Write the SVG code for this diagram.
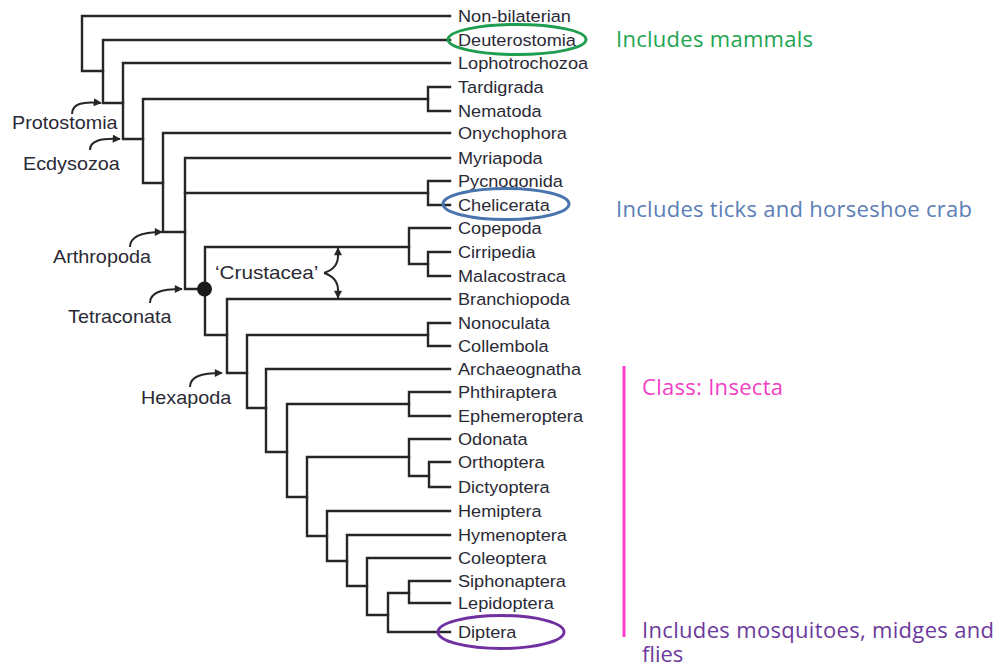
<svg xmlns="http://www.w3.org/2000/svg" width="1001" height="666" viewBox="0 0 1001 666">
<defs>
<style>
.br{fill:none;stroke:#262626;stroke-width:2.4;stroke-linecap:square;stroke-linejoin:miter}
.lf{font-family:"Liberation Sans",Arial,sans-serif;font-size:16.5px;fill:#2a2a36}
.cl{font-family:"Liberation Sans",Arial,sans-serif;font-size:18px;fill:#2a2a36}
.ar{fill:none;stroke:#262626;stroke-width:2}
.an{font-family:"Open Sans","Noto Sans",sans-serif;font-size:22px}
</style>
<marker id="ah" viewBox="0 0 10 10" refX="9" refY="5" markerWidth="10" markerHeight="8" markerUnits="userSpaceOnUse" orient="auto">
<path d="M0,0 L10,5 L0,10 Z" fill="#262626"/>
</marker>
</defs>
<rect width="1001" height="666" fill="#ffffff"/>

<g id="connectors">
<path class="br" d="M450,16 H82 V71 H103"/>
<path class="br" d="M450,40 H103 V103 H123"/>
<path class="br" d="M450,63 H123 V139 H143"/>
<path class="br" d="M428,99 H143 V183 H163"/>
<path class="br" d="M450,87 H428 V111 H450"/>
<path class="br" d="M450,133 H163 V232 H185"/>
<path class="br" d="M450,158 H185 V289 H205"/>
<path class="br" d="M185,193 H428"/>
<path class="br" d="M450,181 H428 V205 H450"/>
<path class="br" d="M409,247 H205 V335 H227"/>
<path class="br" d="M450,228 H409 V264 H428"/>
<path class="br" d="M450,252 H428 V276 H450"/>
<path class="br" d="M450,299 H227 V373 H247"/>
<path class="br" d="M428,335 H247 V408 H266"/>
<path class="br" d="M450,323 H428 V346 H450"/>
<path class="br" d="M450,369 H266 V452 H287"/>
<path class="br" d="M409,404 H287 V497 H307"/>
<path class="br" d="M450,392 H409 V416 H450"/>
<path class="br" d="M409,457 H307 V536 H327"/>
<path class="br" d="M450,439 H409 V476 H429"/>
<path class="br" d="M450,462 H429 V487 H450"/>
<path class="br" d="M450,511 H327 V561 H347"/>
<path class="br" d="M450,535 H347 V586 H367"/>
<path class="br" d="M450,558 H367 V615 H388"/>
<path class="br" d="M409,593 H388 V632 H450"/>
<path class="br" d="M450,581 H409 V603 H450"/>
<circle cx="204.5" cy="289" r="7.5" fill="#1a1a1a"/>
<path class="ar" d="M72,114 C72,104 82,101 101,103" marker-end="url(#ah)"/>
<path class="ar" d="M90,150 C90,141 100,138 120,139" marker-end="url(#ah)"/>
<path class="ar" d="M130,247 C130,237 140,232 162,232" marker-end="url(#ah)"/>
<path class="ar" d="M150,303 C150,293 160,289 182,289" marker-end="url(#ah)"/>
<path class="ar" d="M190,387 C190,377 200,373 222,373" marker-end="url(#ah)"/>
<path class="ar" d="M324,273 C333,270 338,265 338,256 L338,248" marker-end="url(#ah)"/>
<path class="ar" d="M324,273 C333,276 338,281 338,290 L338,298" marker-end="url(#ah)"/>
</g>

<g id="clade-labels">
<text class="cl" transform="translate(12,129) scale(1.1,1)">Protostomia</text>
<text class="cl" transform="translate(23,170) scale(1.1,1)">Ecdysozoa</text>
<text class="cl" transform="translate(53,263) scale(1.1,1)">Arthropoda</text>
<text class="cl" transform="translate(68,323) scale(1.1,1)">Tetraconata</text>
<text class="cl" transform="translate(141,404) scale(1.1,1)">Hexapoda</text>
<text class="cl" transform="translate(215,279) scale(1.15,1)">‘Crustacea’</text>
</g>

<g id="n-nonbilaterian"><text class="lf" transform="translate(458,22) scale(1.1,1)">Non-bilaterian</text></g>
<g id="n-deuterostomia"><text class="lf" transform="translate(458,46) scale(1.1,1)">Deuterostomia</text></g>
<g id="n-lophotrochozoa"><text class="lf" transform="translate(458,69) scale(1.1,1)">Lophotrochozoa</text></g>
<g id="n-tardigrada"><text class="lf" transform="translate(458,93) scale(1.1,1)">Tardigrada</text></g>
<g id="n-nematoda"><text class="lf" transform="translate(458,117) scale(1.1,1)">Nematoda</text></g>
<g id="n-onychophora"><text class="lf" transform="translate(458,139) scale(1.1,1)">Onychophora</text></g>
<g id="n-myriapoda"><text class="lf" transform="translate(458,164) scale(1.1,1)">Myriapoda</text></g>
<g id="n-pycnogonida"><text class="lf" transform="translate(458,187) scale(1.1,1)">Pycnogonida</text></g>
<g id="n-chelicerata"><text class="lf" transform="translate(458,211) scale(1.1,1)">Chelicerata</text></g>
<g id="n-copepoda"><text class="lf" transform="translate(458,234) scale(1.1,1)">Copepoda</text></g>
<g id="n-cirripedia"><text class="lf" transform="translate(458,258) scale(1.1,1)">Cirripedia</text></g>
<g id="n-malacostraca"><text class="lf" transform="translate(458,282) scale(1.1,1)">Malacostraca</text></g>
<g id="n-branchiopoda"><text class="lf" transform="translate(458,305) scale(1.1,1)">Branchiopoda</text></g>
<g id="n-nonoculata"><text class="lf" transform="translate(458,329) scale(1.1,1)">Nonoculata</text></g>
<g id="n-collembola"><text class="lf" transform="translate(458,352) scale(1.1,1)">Collembola</text></g>
<g id="n-archaeognatha"><text class="lf" transform="translate(458,375) scale(1.1,1)">Archaeognatha</text></g>
<g id="n-phthiraptera"><text class="lf" transform="translate(458,398) scale(1.1,1)">Phthiraptera</text></g>
<g id="n-ephemeroptera"><text class="lf" transform="translate(458,422) scale(1.1,1)">Ephemeroptera</text></g>
<g id="n-odonata"><text class="lf" transform="translate(458,445) scale(1.1,1)">Odonata</text></g>
<g id="n-orthoptera"><text class="lf" transform="translate(458,468) scale(1.1,1)">Orthoptera</text></g>
<g id="n-dictyoptera"><text class="lf" transform="translate(458,493) scale(1.1,1)">Dictyoptera</text></g>
<g id="n-hemiptera"><text class="lf" transform="translate(458,517) scale(1.1,1)">Hemiptera</text></g>
<g id="n-hymenoptera"><text class="lf" transform="translate(458,541) scale(1.1,1)">Hymenoptera</text></g>
<g id="n-coleoptera"><text class="lf" transform="translate(458,564) scale(1.1,1)">Coleoptera</text></g>
<g id="n-siphonaptera"><text class="lf" transform="translate(458,587) scale(1.1,1)">Siphonaptera</text></g>
<g id="n-lepidoptera"><text class="lf" transform="translate(458,609) scale(1.1,1)">Lepidoptera</text></g>
<g id="n-diptera"><text class="lf" transform="translate(458,638) scale(1.1,1)">Diptera</text></g>

<g id="highlights">
<ellipse cx="517" cy="39.5" rx="69" ry="15" fill="none" stroke="#1f9e50" stroke-width="3"/>
<ellipse cx="506" cy="204" rx="63" ry="15.5" fill="none" stroke="#4a74ae" stroke-width="3"/>
<ellipse cx="501" cy="632" rx="63" ry="16.5" fill="none" stroke="#7030a0" stroke-width="3"/>
</g>

<g id="annotations">
<text class="an" x="616" y="47" fill="#22a552" textLength="197">Includes mammals</text>
<text class="an" x="616" y="217" fill="#5a7eb6" textLength="356">Includes ticks and horseshoe crab</text>
<line x1="624" y1="366" x2="624" y2="637" stroke="#ff3cc8" stroke-width="3"/>
<text class="an" x="642" y="395" fill="#f040c4" textLength="141">Class: Insecta</text>
<text class="an" x="642" y="638" fill="#6b3a9c" textLength="352">Includes mosquitoes, midges and</text>
<text class="an" x="642" y="662" fill="#6b3a9c">flies</text>
</g>
</svg>
